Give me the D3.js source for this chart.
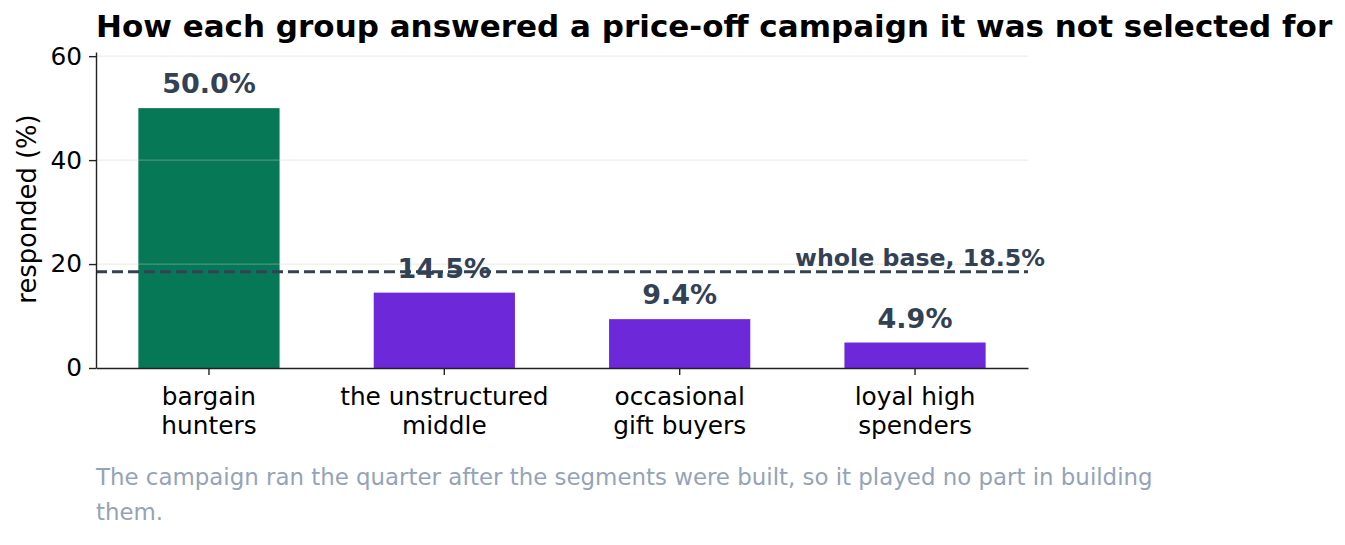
<!DOCTYPE html>
<html lang="en">
<head>
    <meta charset="UTF-8">
    <title>Price-off campaign response by group</title>
    <style>
        body { margin: 0; background: #fff; }
        svg { display: block; font-family: "DejaVu Sans", sans-serif; }
        .axis text { font-family: "DejaVu Sans", sans-serif; font-size: 24.8px; fill: #000; }
        .axis .domain, .axis line { stroke: #222; stroke-width: 1.4px; }
        .grid line { stroke: #c8c8c8; stroke-opacity: 0.35; stroke-width: 1.3px; }
        .value { font-size: 27px; font-weight: bold; fill: #334155; text-anchor: middle; }
        .title { font-size: 31px; font-weight: bold; fill: #000; }
        .label { font-size: 25.8px; fill: #000; }
        .note { font-size: 22.9px; fill: #94a3b8; }
        .baseline { stroke: #334155; stroke-width: 3px; stroke-dasharray: 11px 5px; }
        .baseText { font-size: 23.7px; font-weight: bold; fill: #334155; text-anchor: end; }
    </style>
    <script src="https://cdn.jsdelivr.net/npm/d3@7"></script>
</head>
<body>
<script>
    // data
    const groups = [["bargain", "hunters"], ["the unstructured", "middle"], ["occasional", "gift buyers"], ["loyal high", "spenders"]];
    const responded = [50.0, 14.5, 9.4, 4.9];
    const barColors = ["#077856", "#6d28d9", "#6d28d9", "#6d28d9"];
    const wholeBase = 18.5;
    const yTicks = [0, 20, 40, 60];
    const titleText = "How each group answered a price-off campaign it was not selected for";
    const noteLines = ["The campaign ran the quarter after the segments were built, so it played no part in building", "them."];

    const width = 1345, height = 545;
    const margins = { top: 52, bottom: 177, left: 96, right: 317 };

    const svg = d3.select("body").append("svg")
        .attr("width", width)
        .attr("height", height);

    const keys = groups.map((g, i) => i);

    const xScale = d3.scaleBand()
        .domain(keys)
        .range([margins.left, width - margins.right])
        .paddingInner(0.4)
        .paddingOuter(0.18);

    const yScale = d3.scaleLinear()
        .domain([0, 60.8])
        .range([height - margins.bottom, margins.top]);

    // bars
    svg.append("g")
        .selectAll("rect")
        .data(responded)
        .enter()
        .append("rect")
        .attr("x", (d, i) => xScale(i))
        .attr("width", xScale.bandwidth())
        .attr("y", d => yScale(d))
        .attr("height", d => yScale(0) - yScale(d))
        .attr("fill", (d, i) => barColors[i]);

    // grid (sits over the bars, faint)
    svg.append("g").attr("class", "grid")
        .selectAll("line")
        .data(yTicks.filter(d => d > 0))
        .enter()
        .append("line")
        .attr("x1", margins.left)
        .attr("x2", width - margins.right)
        .attr("y1", d => yScale(d))
        .attr("y2", d => yScale(d));

    // whole base reference line
    svg.append("line")
        .attr("class", "baseline")
        .attr("x1", margins.left)
        .attr("x2", width - margins.right)
        .attr("y1", yScale(wholeBase))
        .attr("y2", yScale(wholeBase));

    svg.append("text")
        .attr("class", "baseText")
        .attr("x", width - margins.right + 17)
        .attr("y", yScale(wholeBase) - 5.5)
        .text(`whole base, ${wholeBase.toFixed(1)}%`);

    // value labels
    svg.append("g")
        .selectAll("text")
        .data(responded)
        .enter()
        .append("text")
        .attr("class", "value")
        .attr("x", (d, i) => xScale(i) + xScale.bandwidth() / 2)
        .attr("y", d => yScale(d) - 15)
        .text(d => d.toFixed(1) + "%");

    // axes
    const xAxis = d3.axisBottom(xScale).tickSize(7).tickSizeOuter(0).tickFormat("");
    const xg = svg.append("g").attr("class", "axis")
        .attr("transform", `translate(0, ${yScale(0)})`)
        .call(xAxis);
    xg.selectAll(".tick")
        .append("text")
        .attr("text-anchor", "middle")
        .selectAll("tspan")
        .data(i => groups[i])
        .enter()
        .append("tspan")
        .attr("x", 0)
        .attr("y", (d, j) => 37 + j * 29)
        .text(d => d);

    const yAxis = d3.axisLeft(yScale).tickValues(yTicks).tickSize(7).tickSizeOuter(0).tickPadding(7);
    svg.append("g").attr("class", "axis")
        .attr("transform", `translate(${margins.left}, 0)`)
        .call(yAxis);

    // y axis label
    svg.append("text")
        .attr("class", "label")
        .attr("transform", `translate(36, 209) rotate(-90)`)
        .style("text-anchor", "middle")
        .text("responded (%)");

    // title
    svg.append("text")
        .attr("class", "title")
        .attr("x", margins.left)
        .attr("y", 37)
        .text(titleText);

    // footnote
    svg.append("g")
        .selectAll("text")
        .data(noteLines)
        .enter()
        .append("text")
        .attr("class", "note")
        .attr("x", margins.left)
        .attr("y", (d, i) => 485 + i * 35)
        .text(d => d);
</script>
</body>
</html>
